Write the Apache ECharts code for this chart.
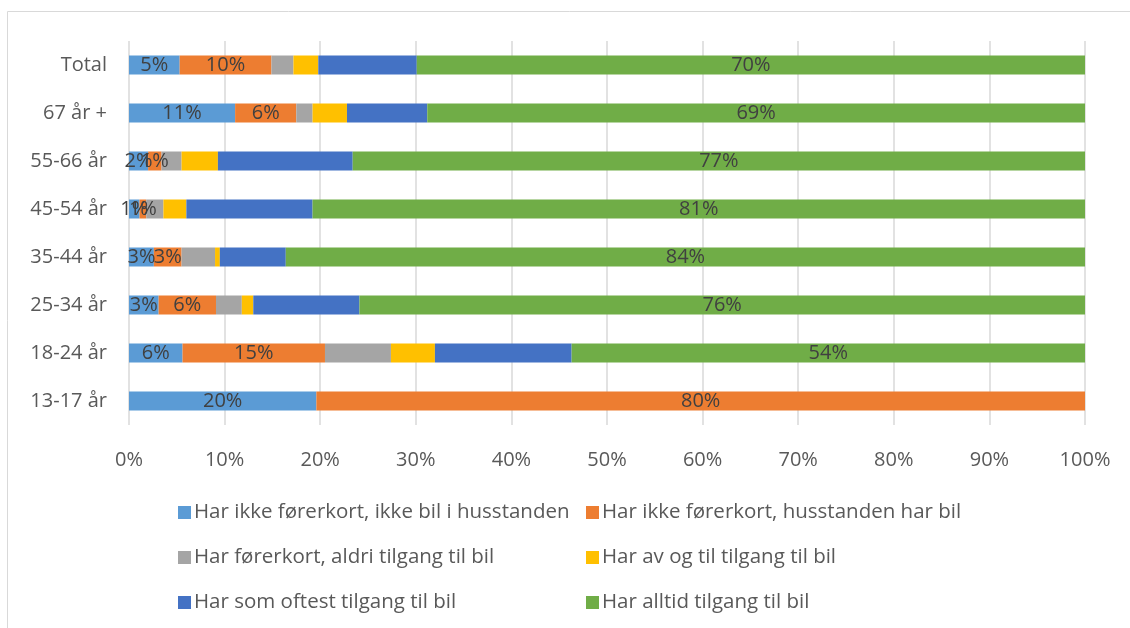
<!DOCTYPE html>
<html>
<head>
<meta charset="utf-8">
<title>Tilgang til bil</title>
<script src="https://cdn.jsdelivr.net/npm/echarts@6/dist/echarts.min.js"></script>
<style>
  html, body { margin: 0; padding: 0; background: #fff; }
  #main { width: 1130px; height: 628px; }
</style>
</head>
<body>
<div id="main"></div>
<script>
// kategorier (øverst først)
let categories = ['Total', '67 år +', '55-66 år', '45-54 år', '35-44 år', '25-34 år', '18-24 år', '13-17 år'];

let seriesNames = [
	'Har ikke førerkort, ikke bil i husstanden',
	'Har ikke førerkort, husstanden har bil',
	'Har førerkort, aldri tilgang til bil',
	'Har av og til tilgang til bil',
	'Har som oftest tilgang til bil',
	'Har alltid tilgang til bil'
];

// andeler i prosent, lest av figuren
let ikkeForerkortIkkeBil = [5.3, 11.1, 2.0, 1.1, 2.6, 3.1, 5.6, 19.6];
let ikkeForerkortHarBil  = [9.6, 6.4, 1.4, 0.7, 2.9, 6.0, 14.9, 80.4];
let aldriTilgang         = [2.3, 1.7, 2.1, 1.8, 3.5, 2.7, 6.9, 0];
let avOgTilTilgang       = [2.6, 3.6, 3.8, 2.4, 0.5, 1.2, 4.6, 0];
let somOftestTilgang     = [10.3, 8.4, 14.1, 13.2, 6.9, 11.1, 14.3, 0];
let alltidTilgang        = [69.9, 68.8, 76.6, 80.8, 83.6, 75.9, 53.7, 0];

let xTicks = [0, 10, 20, 30, 40, 50, 60, 70, 80, 90, 100];

let colors = ['#5B9BD5', '#ED7D31', '#A5A5A5', '#FFC000', '#4472C4', '#70AD47'];
let font = '"Open Sans", sans-serif';

let myChart = echarts.init(document.getElementById('main'));

function makeSeries(name, data, withLabel) {
	return {
		name: name,
		type: 'bar',
		stack: 'Total',
		barWidth: 19,
		data: data,
		label: {
			show: withLabel,
			position: 'inside',
			color: '#404040',
			fontFamily: font,
			fontSize: 20,
			formatter: function (p) {
				return p.value > 0 ? Math.round(p.value) + '%' : '';
			}
		},
		emphasis: { disabled: true }
	};
}

let legendText = { color: '#595959', fontFamily: font, fontSize: 20.5, lineHeight: 20, padding: [0, 0, 0, -2] };

let option = {
	animation: false,
	color: colors,
	graphic: [
		{
			type: 'rect',
			shape: { x: 7.5, y: 11.5, width: 1200, height: 700 },
			style: { fill: 'none', stroke: '#d9d9d9', lineWidth: 1 },
			z: -10
		}
	],
	legend: [
		{
			orient: 'vertical',
			left: 173,
			top: 497,
			itemWidth: 13,
			itemHeight: 13,
			itemGap: 24,
			icon: 'rect',
			textStyle: legendText,
			data: [seriesNames[0], seriesNames[2], seriesNames[4]]
		},
		{
			orient: 'vertical',
			left: 581,
			top: 497,
			itemWidth: 13,
			itemHeight: 13,
			itemGap: 24,
			icon: 'rect',
			textStyle: legendText,
			data: [seriesNames[1], seriesNames[3], seriesNames[5]]
		}
	],
	grid: {
		left: 129,
		right: 45,
		top: 41,
		bottom: 203,
		containLabel: false
	},
	xAxis: {
		type: 'value',
		min: xTicks[0],
		max: xTicks[xTicks.length - 1],
		interval: xTicks[1] - xTicks[0],
		axisLine: { show: false },
		axisTick: { show: false },
		splitLine: { lineStyle: { color: '#d9d9d9', width: 1.5 } },
		axisLabel: {
			color: '#595959',
			fontFamily: font,
			fontSize: 20,
			margin: 25,
			formatter: '{value}%'
		}
	},
	yAxis: {
		type: 'category',
		inverse: true,
		data: categories,
		axisLine: { show: false },
		axisTick: { show: false },
		axisLabel: {
			color: '#595959',
			fontFamily: font,
			fontSize: 20,
			margin: 22
		}
	},
	series: [
		makeSeries(seriesNames[0], ikkeForerkortIkkeBil, true),
		makeSeries(seriesNames[1], ikkeForerkortHarBil, true),
		makeSeries(seriesNames[2], aldriTilgang, false),
		makeSeries(seriesNames[3], avOgTilTilgang, false),
		makeSeries(seriesNames[4], somOftestTilgang, false),
		makeSeries(seriesNames[5], alltidTilgang, true)
	]
};

myChart.setOption(option);
</script>
</body>
</html>
